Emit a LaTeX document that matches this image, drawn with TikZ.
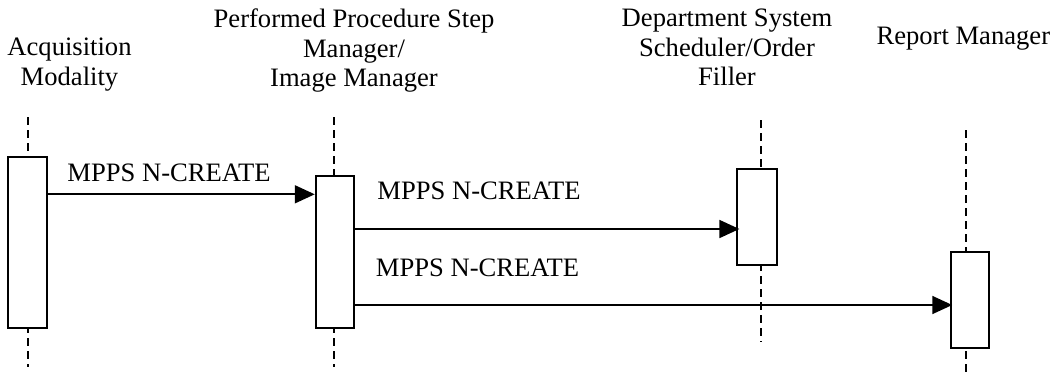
\documentclass[tikz,border=0pt]{standalone}
\usepackage{fontspec}
\setmainfont{Liberation Serif}
\usetikzlibrary{arrows.meta}
\begin{document}
\begin{tikzpicture}[x=1pt,y=-1pt,
  txt/.style={font=\fontsize{26.6}{29.5}\selectfont, inner sep=0pt, align=center},
  life/.style={line width=1.8pt, dash pattern=on 8pt off 5pt},
  actbox/.style={draw, fill=white, line width=1.9pt, minimum width=38.6pt, inner sep=0pt},
  msg/.style={line width=1.8pt, -{Triangle[length=20pt,width=18pt]}}]
\useasboundingbox (0,0) rectangle (1055,376);
% headers
\node[txt, anchor=north] (h1) at (69.5,38) {Acquisition\\Modality};
\node[txt, anchor=north] (h2) at (354,9) {Performed Procedure Step\\Manager/\\Image Manager};
\node[txt, anchor=north] (h3) at (727,9) {Department System\\Scheduler/Order\\Filler};
\node[txt, anchor=base] (h4) at (963.3,44) {Report Manager};
% lifelines
\coordinate (l1t) at (27.7,117); \coordinate (l1b) at (27.7,367);
\coordinate (l2t) at (334.3,117); \coordinate (l2b) at (334.3,367);
\coordinate (l3t) at (760.7,120); \coordinate (l3b) at (760.7,342);
\coordinate (l4t) at (965.7,130); \coordinate (l4b) at (965.7,376);
\draw[life] (l1t) -- (l1b);
\draw[life] (l2t) -- (l2b);
\draw[life] (l3t) -- (l3b);
\draw[life] (l4t) -- (l4b);
% activation boxes
\node[actbox, minimum height=171pt] (b1) at (27.7,242.5) {};
\node[actbox, minimum height=152.3pt] (b2) at (335,251.9) {};
\node[actbox, minimum height=95.4pt, minimum width=39.4pt] (b3) at (757,217) {};
\node[actbox, minimum height=96pt] (b4) at (970,299.7) {};
% messages
\coordinate (m1) at (0,194.3);
\coordinate (m2) at (0,229);
\coordinate (m3) at (0,305);
\draw[msg] (b1.east |- m1) -- (b2.west |- m1);
\draw[msg] (b2.east |- m2) -- ([xshift=3pt]b3.west |- m2);
\draw[msg] (b2.east |- m3) -- ([xshift=2.5pt]b4.west |- m3);
% labels
\node[txt, anchor=base] (t1) at (169,181) {MPPS N-CREATE};
\node[txt, anchor=base] (t2) at (479,199.5) {MPPS N-CREATE};
\node[txt, anchor=base] (t3) at (477.5,276.5) {MPPS N-CREATE};
\end{tikzpicture}
\end{document}
